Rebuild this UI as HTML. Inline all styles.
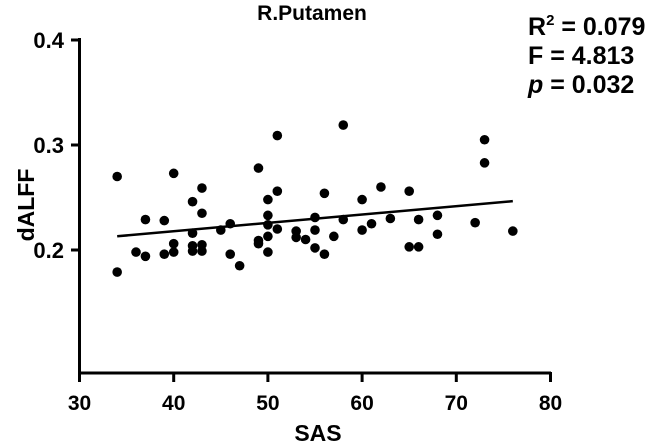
<!DOCTYPE html>
<html><head><meta charset="utf-8"><style>
body{margin:0;background:#fff;}
svg{display:block;font-family:"Liberation Sans",Arial,sans-serif;font-weight:bold;}
</style></head><body>
<svg width="656" height="444" viewBox="0 0 656 444">
<g id="axes"></g><g id="marks"></g>
<text x="312" y="20" text-anchor="middle" font-size="21">R.Putamen</text>
<text x="528" y="35" font-size="25">R<tspan font-size="15" dy="-10">2</tspan><tspan dy="10"> = 0.079</tspan></text>
<text x="528" y="64" font-size="25">F = 4.813</text>
<text x="528" y="93" font-size="25"><tspan font-style="italic">p</tspan> = 0.032</text>
<text x="0" y="0" transform="translate(34,205) rotate(-90)" text-anchor="middle" font-size="23">dALFF</text>
<text x="318" y="441" text-anchor="middle" font-size="23">SAS</text>
</svg>
<script>
const xTicks=[30,40,50,60,70,80];
const yTicks=[0.2,0.3,0.4];
const yTickLabels=["0.2","0.3","0.4"];
const sas=[34,34,36,37,37,39,39,40,40,40,42,42,42,42,43,43,43,43,45,46,46,47,49,49,49,50,50,50,50,50,51,51,51,53,53,54,55,55,55,56,56,57,58,58,60,60,61,62,63,65,65,66,66,68,68,72,73,73,76];
const dalff=[0.270,0.179,0.198,0.229,0.194,0.228,0.196,0.273,0.206,0.198,0.246,0.216,0.204,0.199,0.259,0.235,0.205,0.199,0.219,0.225,0.196,0.185,0.278,0.209,0.206,0.248,0.233,0.224,0.213,0.198,0.309,0.256,0.220,0.218,0.212,0.210,0.231,0.219,0.202,0.254,0.196,0.213,0.319,0.229,0.248,0.219,0.225,0.260,0.230,0.256,0.203,0.229,0.203,0.233,0.215,0.226,0.305,0.283,0.218];
const NS="http://www.w3.org/2000/svg";
const xs=v=>79.5+(v-30)*9.42;
const ys=v=>250-(v-0.2)*1050;
const axes=document.getElementById('axes'),marks=document.getElementById('marks');
function mk(tag,attrs,parent){const e=document.createElementNS(NS,tag);for(const k in attrs)e.setAttribute(k,attrs[k]);parent.appendChild(e);return e;}
let yAxis=mk('line',{x1:79.5,y1:38,x2:79.5,y2:374,stroke:'#000','stroke-width':3},axes);


let xAxis=mk('line',{x1:78,y1:373,x2:551,y2:373,stroke:'#000','stroke-width':3},axes);


xTicks.forEach(t=>{
 let l=mk('line',{x1:xs(t),y1:372,x2:xs(t),y2:382,stroke:'#000','stroke-width':3},axes);
 
 
 let tx=mk('text',{x:xs(t),y:410,'text-anchor':'middle','font-size':21},axes);
 tx.textContent=t;
 
 
});
yTicks.forEach((t,i)=>{
 let l=mk('line',{x1:71,y1:ys(t),x2:80,y2:ys(t),stroke:'#000','stroke-width':3},axes);
 
 
 let tx=mk('text',{x:64,y:ys(t)+8,'text-anchor':'end','font-size':22},axes);
 tx.textContent=yTickLabels[i];
 
 
});
sas.forEach((v,i)=>{
 let c=mk('circle',{cx:xs(v),cy:ys(dalff[i]),r:4.8,fill:'#000'},marks);
 
 
});
const n=sas.length,mx=sas.reduce((a,b)=>a+b)/n,my=dalff.reduce((a,b)=>a+b)/n;
let sxy=0,sxx=0;sas.forEach((v,i)=>{sxy+=(v-mx)*(dalff[i]-my);sxx+=(v-mx)*(v-mx);});
const slope=sxy/sxx,icpt=my-slope*mx;
const x0=Math.min(...sas),x1=Math.max(...sas);
let fit=mk('line',{x1:xs(x0),y1:ys(icpt+slope*x0),x2:xs(x1),y2:ys(icpt+slope*x1),stroke:'#000','stroke-width':2.5},marks);


</script>
</body></html>
